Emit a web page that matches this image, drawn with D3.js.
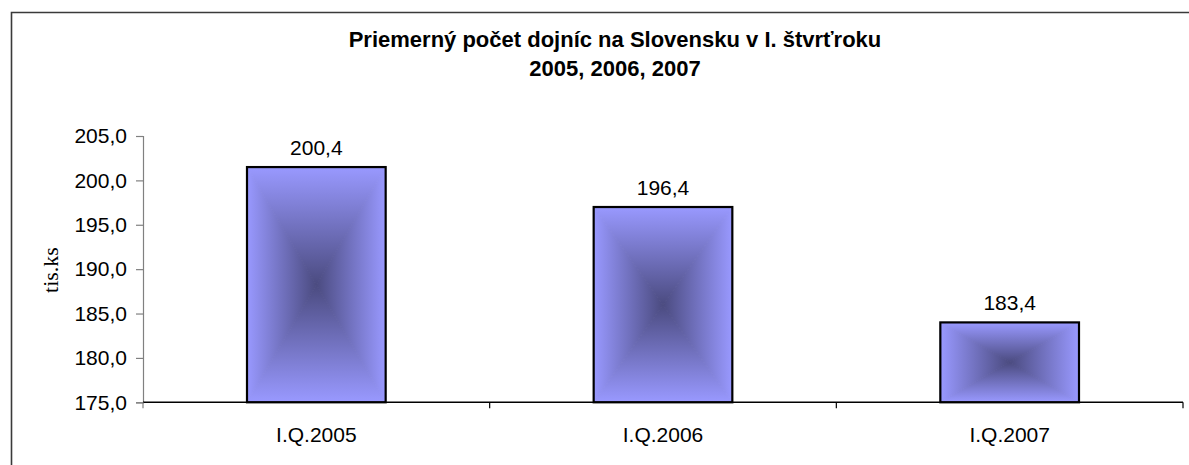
<!DOCTYPE html>
<html>
<head>
<meta charset="utf-8">
<script src="https://cdn.jsdelivr.net/npm/d3@7"></script>
<style>
  html, body { margin: 0; padding: 0; background: #fff; }
  svg { display: block; }
</style>
</head>
<body>
<div id="chart"></div>
<script>
// ---- data ----
const categories = ["I.Q.2005", "I.Q.2006", "I.Q.2007"];
const values = [201.5, 197.0, 184.0];          // bar heights as drawn
const dataLabels = ["200,4", "196,4", "183,4"]; // labels as printed
const yTicks = [175, 180, 185, 190, 195, 200, 205];
const titleLines = ["Priemerný počet dojníc na Slovensku v I. štvrťroku", "2005, 2006, 2007"];
const yTitle = "tis.ks";

// ---- layout ----
const W = 1189, H = 465;
const plot = { left: 143, right: 1183, top: 136, bottom: 402.3 };

const svg = d3.select("#chart").append("svg")
  .attr("width", W).attr("height", H);

const defs = svg.append("defs");
const light = "#9999FF", dark = "#4B4B80";
function grad(id, x1, y1, x2, y2) {
  const g = defs.append("linearGradient").attr("id", id)
    .attr("x1", x1).attr("y1", y1).attr("x2", x2).attr("y2", y2);
  g.append("stop").attr("offset", "0%").attr("stop-color", light);
  g.append("stop").attr("offset", "100%").attr("stop-color", dark);
}
grad("gTop", 0, 0, 0, 1);
grad("gBottom", 0, 1, 0, 0);
grad("gLeft", 0, 0, 1, 0);
grad("gRight", 1, 0, 0, 0);

// chart border (only left and top visible)
svg.append("path")
  .attr("d", `M11.5,${H} V12.5 H${W}`)
  .attr("fill", "none").attr("stroke", "#3a3a3a").attr("stroke-width", 1.6);

// title
const title = svg.append("text")
  .attr("text-anchor", "middle")
  .style("font-family", "Arial, 'Liberation Sans', sans-serif")
  .style("font-weight", "bold").style("font-size", "22px").attr("fill", "#000");
titleLines.forEach((t, i) => {
  title.append("tspan").attr("x", 615).attr("y", 47 + i * 29).text(t);
});

// scales
const x = d3.scaleBand().domain(categories)
  .range([plot.left, plot.right]).paddingInner(0.6).paddingOuter(0.3);
const y = d3.scaleLinear().domain([175, 205]).range([plot.bottom, plot.top]);

// y axis
const yAxis = svg.append("g").attr("transform", `translate(${plot.left},0)`)
  .call(d3.axisLeft(y).tickValues(yTicks).tickSize(7).tickPadding(9)
    .tickFormat(d => d3.format(".1f")(d).replace(".", ",")));
yAxis.select(".domain").attr("stroke", "#808080").attr("stroke-width", 1.2);
yAxis.selectAll(".tick line").attr("stroke", "#808080").attr("stroke-width", 1.2);
yAxis.selectAll(".tick text")
  .style("font-family", "Arial, 'Liberation Sans', sans-serif")
  .style("font-size", "21px").attr("fill", "#000");

// y title
svg.append("text")
  .attr("transform", `translate(58,270) rotate(-90)`)
  .attr("text-anchor", "middle")
  .style("font-family", "'Liberation Serif', 'Times New Roman', 'DejaVu Serif', serif")
  .style("font-size", "22px").attr("fill", "#000")
  .text(yTitle);

// bars
const bars = svg.append("g");
categories.forEach((c, i) => {
  const x0 = x(c), x1 = x0 + x.bandwidth();
  const y0 = y(values[i]), y1 = y(175);
  const cx = (x0 + x1) / 2, cy = (y0 + y1) / 2;
  const g = bars.append("g");
  const tri = [
    ["gTop", `${x0},${y0} ${x1},${y0} ${cx},${cy}`],
    ["gBottom", `${x0},${y1} ${x1},${y1} ${cx},${cy}`],
    ["gLeft", `${x0},${y0} ${x0},${y1} ${cx},${cy}`],
    ["gRight", `${x1},${y0} ${x1},${y1} ${cx},${cy}`]
  ];
  tri.forEach(([id, pts]) => {
    g.append("polygon").attr("points", pts)
      .attr("fill", `url(#${id})`)
      .attr("stroke", `url(#${id})`).attr("stroke-width", 1)
      .attr("stroke-linejoin", "round");
  });
  g.append("rect").attr("x", x0).attr("y", y0)
    .attr("width", x.bandwidth()).attr("height", y1 - y0)
    .attr("fill", "none").attr("stroke", "#000").attr("stroke-width", 2.2);
  g.append("text").attr("x", cx).attr("y", y0 - 12)
    .attr("text-anchor", "middle")
    .style("font-family", "Arial, 'Liberation Sans', sans-serif")
    .style("font-size", "21px").attr("fill", "#000")
    .text(dataLabels[i]);
});

// x axis
const xAxis = svg.append("g").attr("transform", `translate(0,${plot.bottom})`)
  .call(d3.axisBottom(x).tickSize(0).tickPadding(0));
xAxis.select(".domain").attr("stroke", "#000").attr("stroke-width", 1.4)
  .attr("d", `M${plot.left},0 H${plot.right}`);
xAxis.selectAll(".tick text")
  .attr("y", 40).attr("dy", 0)
  .style("font-family", "Arial, 'Liberation Sans', sans-serif")
  .style("font-size", "21px").attr("fill", "#000");
const boundaries = categories.map(c => x(c) - x.step() * x.paddingInner() / 2)
  .concat([plot.right]);
boundaries[0] = plot.left;
xAxis.selectAll(".bound").data(boundaries).enter().append("line")
  .attr("class", "bound")
  .attr("x1", d => d).attr("x2", d => d).attr("y1", 0).attr("y2", 6)
  .attr("stroke", d => d === plot.left ? "#808080" : "#000").attr("stroke-width", 1.2);
</script>
</body>
</html>
